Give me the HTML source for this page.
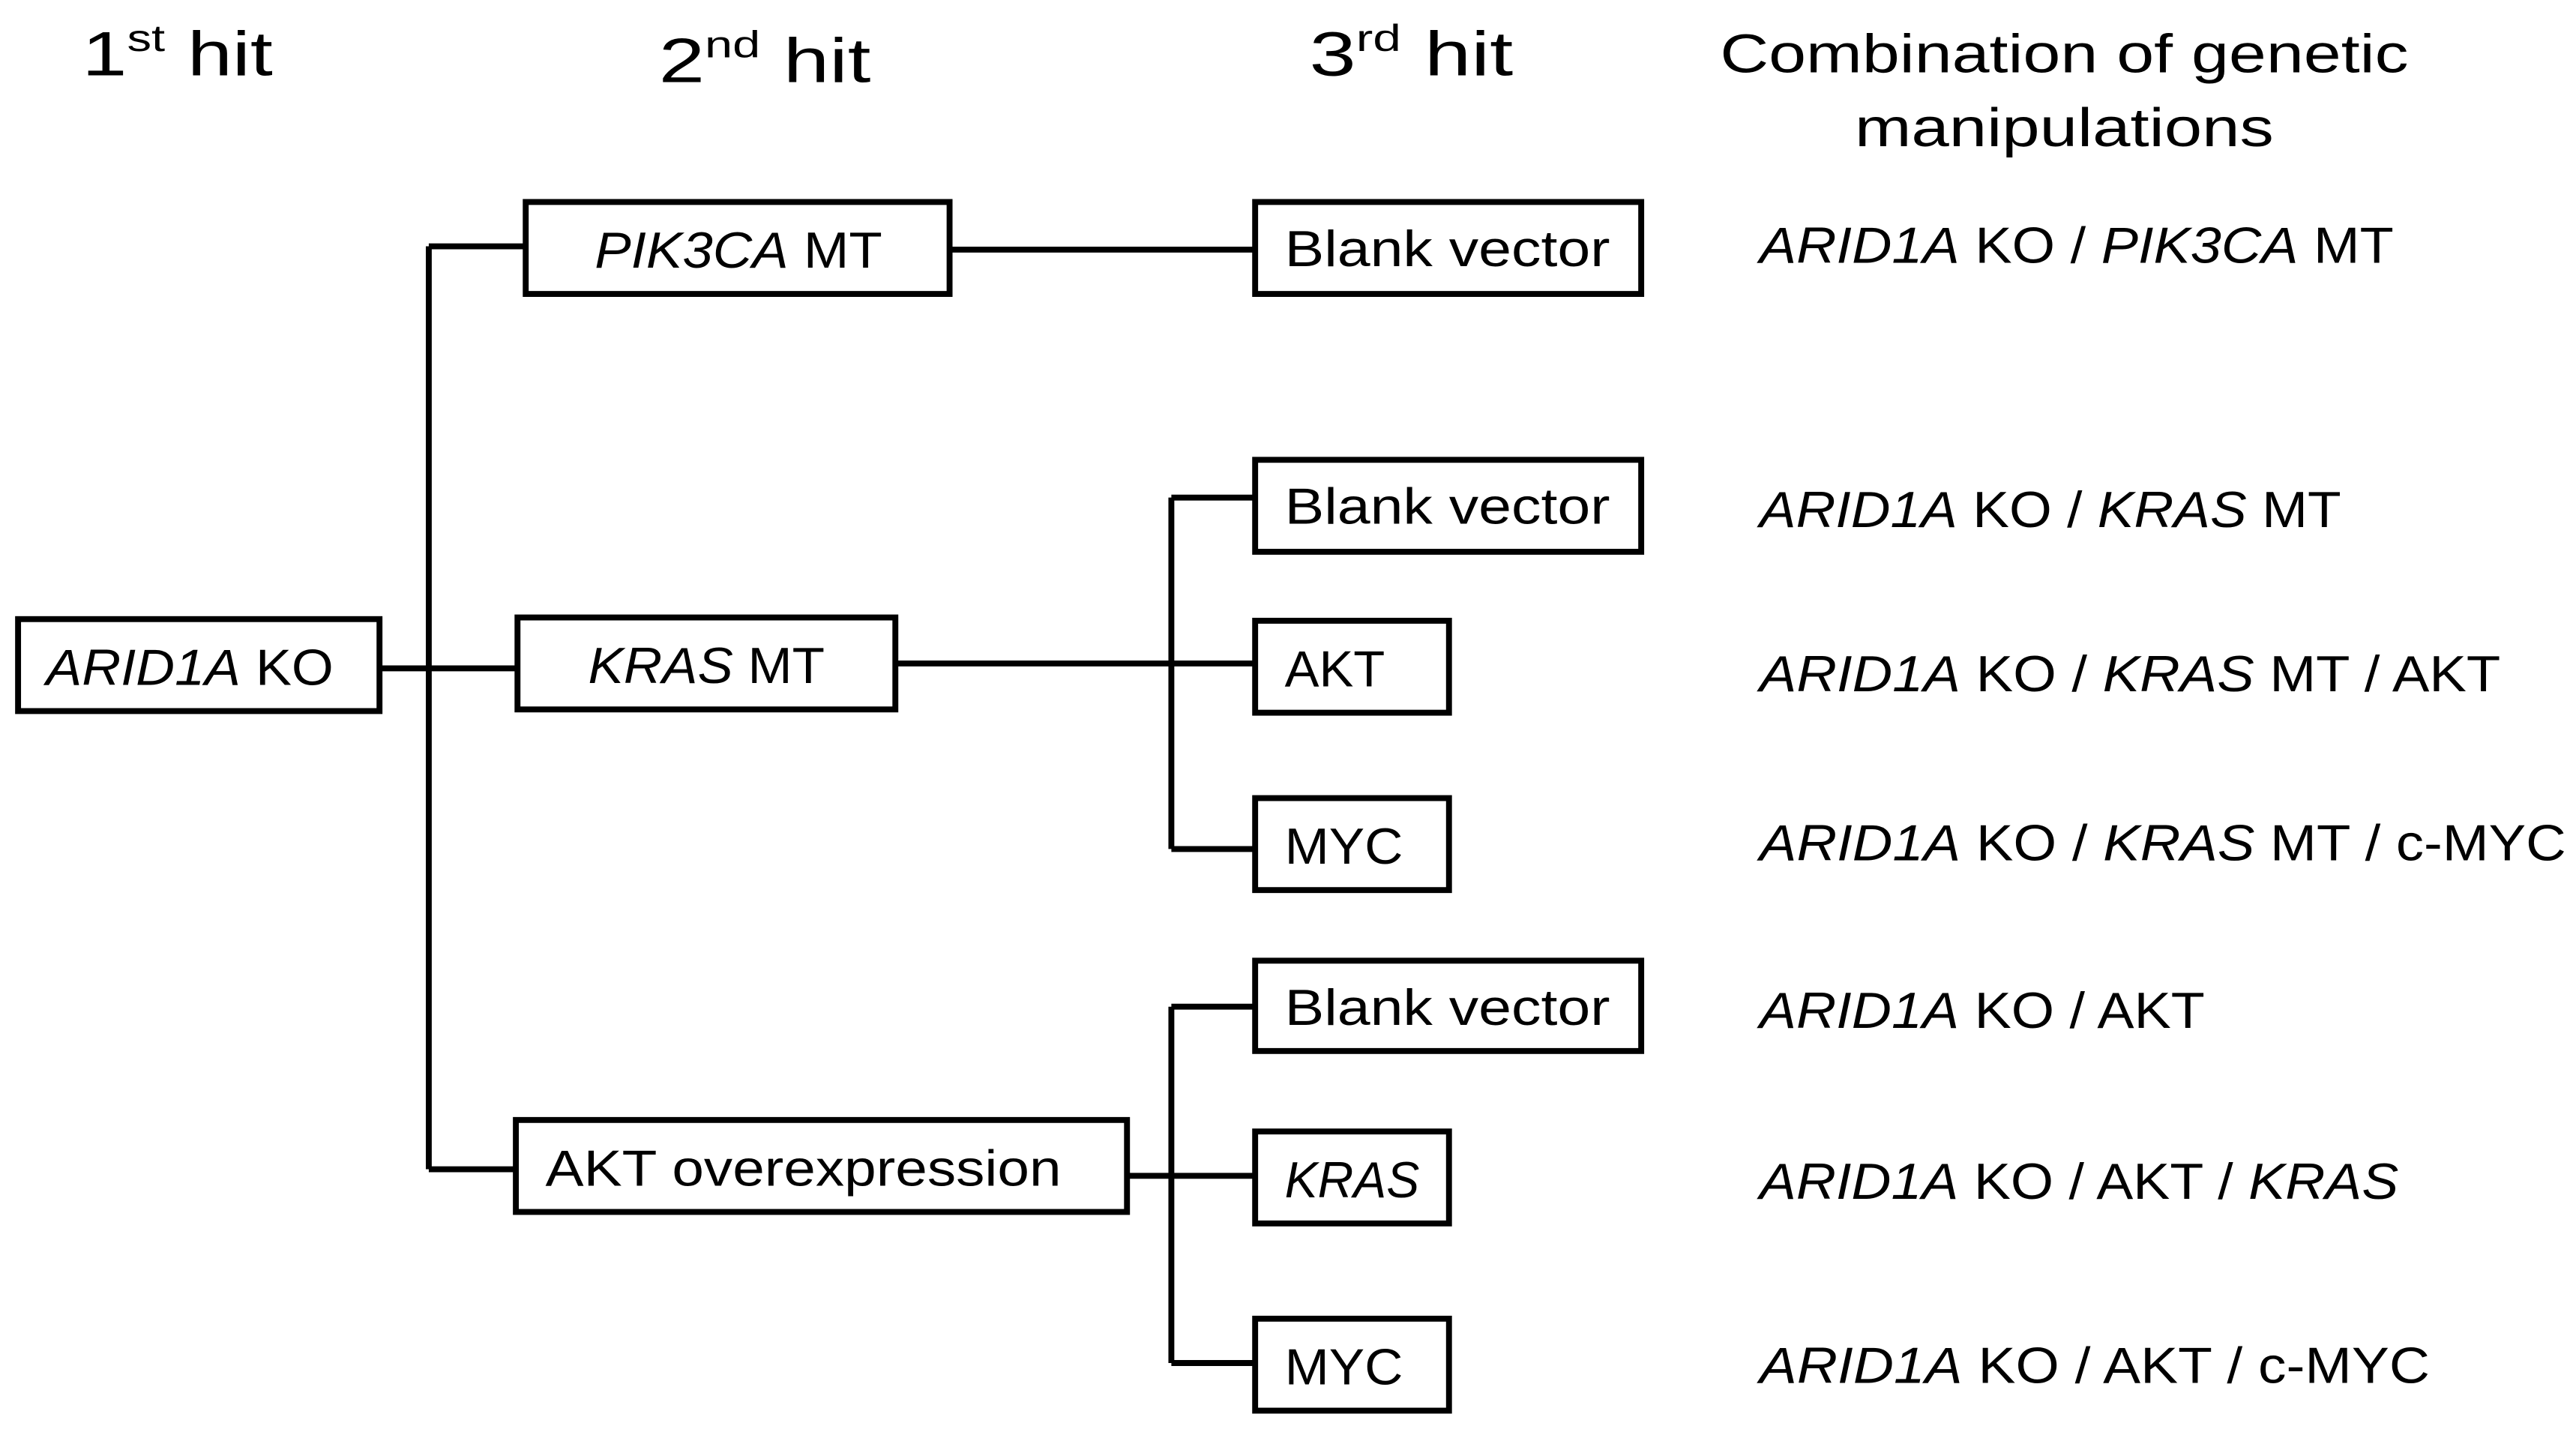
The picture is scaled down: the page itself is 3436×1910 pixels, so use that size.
<!DOCTYPE html>
<html><head><meta charset="utf-8"><style>
html,body{margin:0;padding:0;background:#fff}
svg{display:block}
text{font-family:"Liberation Sans",sans-serif;fill:#000}
.i{font-style:italic}
</style></head><body>
<svg width="3436" height="1910" viewBox="0 0 1568 872" preserveAspectRatio="none">
<g font-size="38">
<text x="50" y="46" textLength="116" lengthAdjust="spacingAndGlyphs">1<tspan font-size="23" dy="-15">st</tspan><tspan dy="15"> hit</tspan></text>
<text x="401" y="50" textLength="129" lengthAdjust="spacingAndGlyphs">2<tspan font-size="23" dy="-15">nd</tspan><tspan dy="15"> hit</tspan></text>
<text x="797" y="46" textLength="124" lengthAdjust="spacingAndGlyphs">3<tspan font-size="23" dy="-15">rd</tspan><tspan dy="15"> hit</tspan></text>
</g>
<g font-size="33">
<text x="1047" y="44" textLength="419" lengthAdjust="spacingAndGlyphs">Combination of genetic</text>
<text x="1129" y="89" textLength="255" lengthAdjust="spacingAndGlyphs">manipulations</text>
</g>
<g fill="none" stroke="#000" stroke-width="3.6">
<rect x="11" y="377" width="220" height="56"/>
<rect x="320" y="123" width="258" height="56"/>
<rect x="315" y="376" width="230" height="56"/>
<rect x="314" y="682" width="372" height="56"/>
<rect x="764" y="123" width="235" height="56"/>
<rect x="764" y="280" width="235" height="56"/>
<rect x="764" y="378" width="118" height="56"/>
<rect x="764" y="486" width="118" height="56"/>
<rect x="764" y="585" width="235" height="55"/>
<rect x="764" y="689" width="118" height="56"/>
<rect x="764" y="803" width="118" height="56"/>
<path d="M231 407H261M261 150V712M261 150H320M261 407H315M261 712H314"/>
<path d="M578 152H764"/>
<path d="M545 404H764M713 303V517M713 303H764M713 517H764"/>
<path d="M686 716H764M713 613V830M713 613H764M713 830H764"/>
</g>
<g font-size="31">
<text x="28" y="417" textLength="175" lengthAdjust="spacingAndGlyphs"><tspan class="i">ARID1A</tspan> KO</text>
<text x="362" y="163" textLength="175" lengthAdjust="spacingAndGlyphs"><tspan class="i">PIK3CA</tspan> MT</text>
<text x="358" y="416" textLength="144" lengthAdjust="spacingAndGlyphs"><tspan class="i">KRAS</tspan> MT</text>
<text x="332" y="722" textLength="314" lengthAdjust="spacingAndGlyphs">AKT overexpression</text>
<text x="782" y="162" textLength="198" lengthAdjust="spacingAndGlyphs">Blank vector</text>
<text x="782" y="319" textLength="198" lengthAdjust="spacingAndGlyphs">Blank vector</text>
<text x="782" y="418" textLength="61" lengthAdjust="spacingAndGlyphs">AKT</text>
<text x="782" y="526" textLength="72" lengthAdjust="spacingAndGlyphs">MYC</text>
<text x="782" y="624" textLength="198" lengthAdjust="spacingAndGlyphs">Blank vector</text>
<text x="782" y="729" textLength="82" lengthAdjust="spacingAndGlyphs" class="i">KRAS</text>
<text x="782" y="843" textLength="72" lengthAdjust="spacingAndGlyphs">MYC</text>
</g>
<g font-size="31">
<text x="1071" y="160" textLength="386" lengthAdjust="spacingAndGlyphs"><tspan class="i">ARID1A</tspan> KO / <tspan class="i">PIK3CA</tspan> MT</text>
<text x="1071" y="321" textLength="354" lengthAdjust="spacingAndGlyphs"><tspan class="i">ARID1A</tspan> KO / <tspan class="i">KRAS</tspan> MT</text>
<text x="1071" y="421" textLength="451" lengthAdjust="spacingAndGlyphs"><tspan class="i">ARID1A</tspan> KO / <tspan class="i">KRAS</tspan> MT / AKT</text>
<text x="1071" y="524" textLength="491" lengthAdjust="spacingAndGlyphs"><tspan class="i">ARID1A</tspan> KO / <tspan class="i">KRAS</tspan> MT / c-MYC</text>
<text x="1071" y="626" textLength="271" lengthAdjust="spacingAndGlyphs"><tspan class="i">ARID1A</tspan> KO / AKT</text>
<text x="1071" y="730" textLength="389" lengthAdjust="spacingAndGlyphs"><tspan class="i">ARID1A</tspan> KO / AKT / <tspan class="i">KRAS</tspan></text>
<text x="1071" y="842" textLength="408" lengthAdjust="spacingAndGlyphs"><tspan class="i">ARID1A</tspan> KO / AKT / c-MYC</text>
</g>
</svg>
</body></html>
